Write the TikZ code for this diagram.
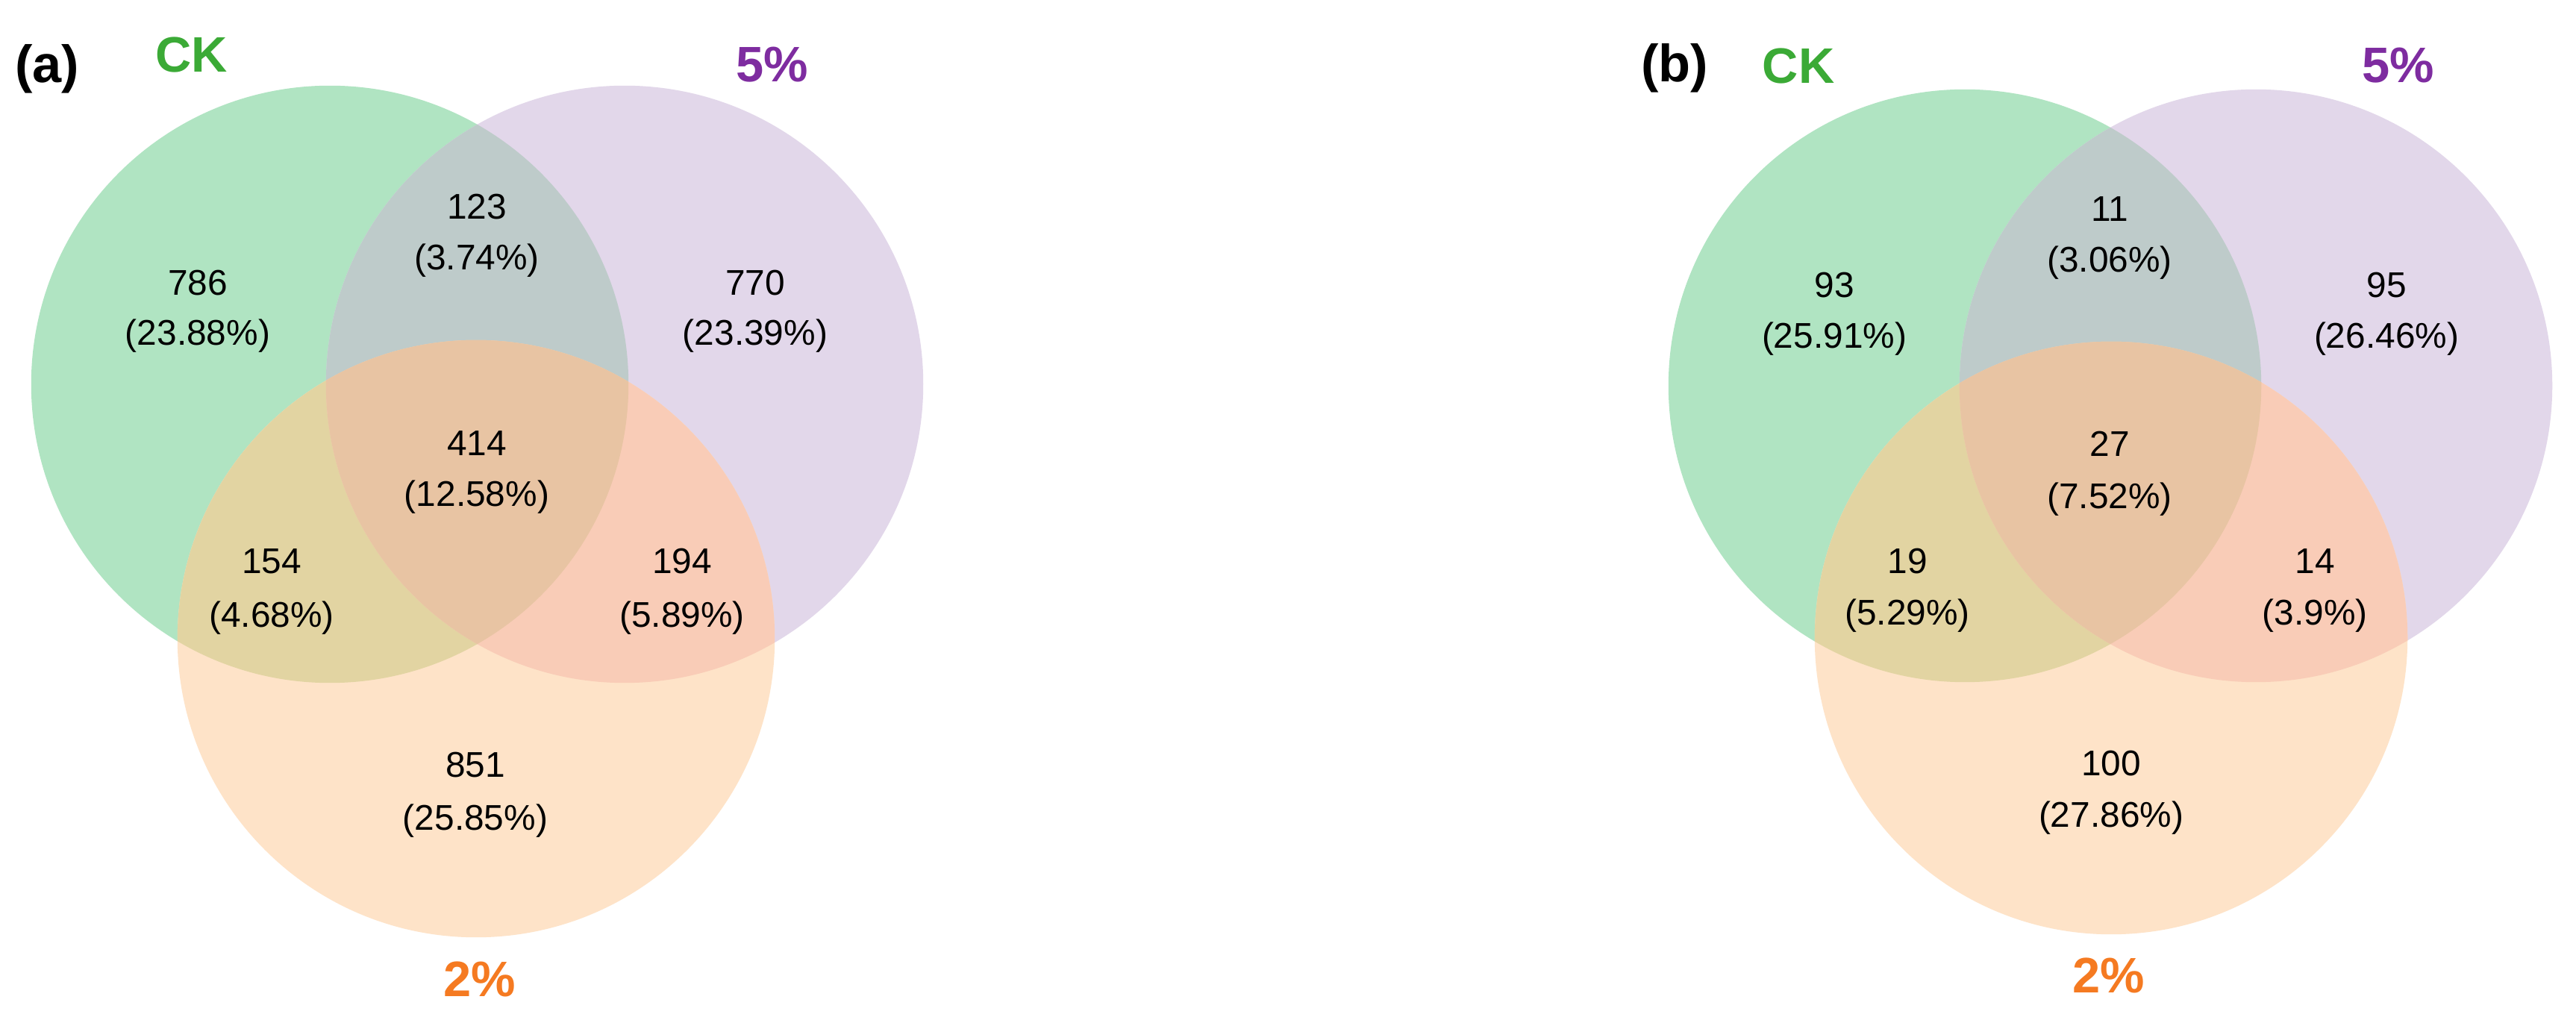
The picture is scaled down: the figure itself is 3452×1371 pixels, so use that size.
\documentclass[tikz,border=0pt]{standalone}
\usepackage{fontspec}
\setmainfont{Liberation Sans}
\definecolor{gcol}{HTML}{B0E4C2}
\definecolor{pcol}{HTML}{E2D7EA}
\definecolor{ocol}{HTML}{FEE3C8}
\definecolor{gpcol}{HTML}{BECBCA}
\definecolor{gocol}{HTML}{E2D4A2}
\definecolor{pocol}{HTML}{F9CCB7}
\definecolor{gpocol}{HTML}{E8C4A3}
\definecolor{cklab}{HTML}{3BAA36}
\definecolor{fivelab}{HTML}{7E2CA0}
\definecolor{twolab}{HTML}{F57A21}
\tikzset{
  num/.style={anchor=base, inner sep=0pt, font=\fontsize{13.6}{16}\selectfont, text=black},
  setlab/.style={anchor=base, inner sep=0pt, font=\fontsize{19}{22}\selectfont\bfseries},
  panellab/.style={anchor=base, inner sep=0pt, font=\fontsize{20}{24}\selectfont\bfseries, text=black},
}
\newcommand{\myvenn}[4]{%
  % #1 A center, #2 B center, #3 C center, #4 radius
  \fill[gcol] (#1) circle[radius=#4];
  \fill[pcol] (#2) circle[radius=#4];
  \fill[ocol] (#3) circle[radius=#4];
  \begin{scope}\clip (#1) circle[radius=#4]; \fill[gpcol] (#2) circle[radius=#4];\end{scope}
  \begin{scope}\clip (#1) circle[radius=#4]; \fill[gocol] (#3) circle[radius=#4];\end{scope}
  \begin{scope}\clip (#2) circle[radius=#4]; \fill[pocol] (#3) circle[radius=#4];\end{scope}
  \begin{scope}\clip (#1) circle[radius=#4]; \clip (#2) circle[radius=#4]; \fill[gpocol] (#3) circle[radius=#4];\end{scope}
}
\begin{document}
\begin{tikzpicture}[x=0.01cm,y=-0.01cm]
\useasboundingbox[fill=white] (0,0) rectangle (3452,1371);
% ---------- panel (a) ----------
\coordinate (aA) at (442,515);
\coordinate (aB) at (837,515);
\coordinate (aC) at (638,856);
\myvenn{aA}{aB}{aC}{4cm}
\node[panellab] (alab) at (63,111) {(a)};
\node[setlab, text=cklab] (ack) at (257,97) {CK};
\node[setlab, text=fivelab] (afive) at (1035,110) {5\%};
\node[setlab, text=twolab] (atwo) at (643,1335) {2\%};
\node[num] (a1) at (265,396) {786};
\node[num] (a1p) at (265,463) {(23.88\%)};
\node[num] (a2) at (639,294) {123};
\node[num] (a2p) at (639,362) {(3.74\%)};
\node[num] (a3) at (1012,396) {770};
\node[num] (a3p) at (1012,463) {(23.39\%)};
\node[num] (a4) at (639,611) {414};
\node[num] (a4p) at (639,679) {(12.58\%)};
\node[num] (a5) at (364,769) {154};
\node[num] (a5p) at (364,841) {(4.68\%)};
\node[num] (a6) at (914,769) {194};
\node[num] (a6p) at (914,841) {(5.89\%)};
\node[num] (a7) at (637,1042) {851};
\node[num] (a7p) at (637,1113) {(25.85\%)};
% ---------- panel (b) ----------
\coordinate (bA) at (2633,517);
\coordinate (bB) at (3023,517);
\coordinate (bC) at (2829,855);
\myvenn{bA}{bB}{bC}{3.97cm}
\node[panellab] (blab) at (2244,110) {(b)};
\node[setlab, text=cklab] (bck) at (2410,112) {CK};
\node[setlab, text=fivelab] (bfive) at (3214,111) {5\%};
\node[setlab, text=twolab] (btwo) at (2826,1330) {2\%};
\node[num] (b1) at (2458,399) {93};
\node[num] (b1p) at (2458,467) {(25.91\%)};
\node[num] (b2) at (2827,297) {11};
\node[num] (b2p) at (2827,365) {(3.06\%)};
\node[num] (b3) at (3198,399) {95};
\node[num] (b3p) at (3198,467) {(26.46\%)};
\node[num] (b4) at (2827,612) {27};
\node[num] (b4p) at (2827,682) {(7.52\%)};
\node[num] (b5) at (2556,769) {19};
\node[num] (b5p) at (2556,838) {(5.29\%)};
\node[num] (b6) at (3102,769) {14};
\node[num] (b6p) at (3102,838) {(3.9\%)};
\node[num] (b7) at (2829,1040) {100};
\node[num] (b7p) at (2829,1109) {(27.86\%)};
\end{tikzpicture}
\end{document}
